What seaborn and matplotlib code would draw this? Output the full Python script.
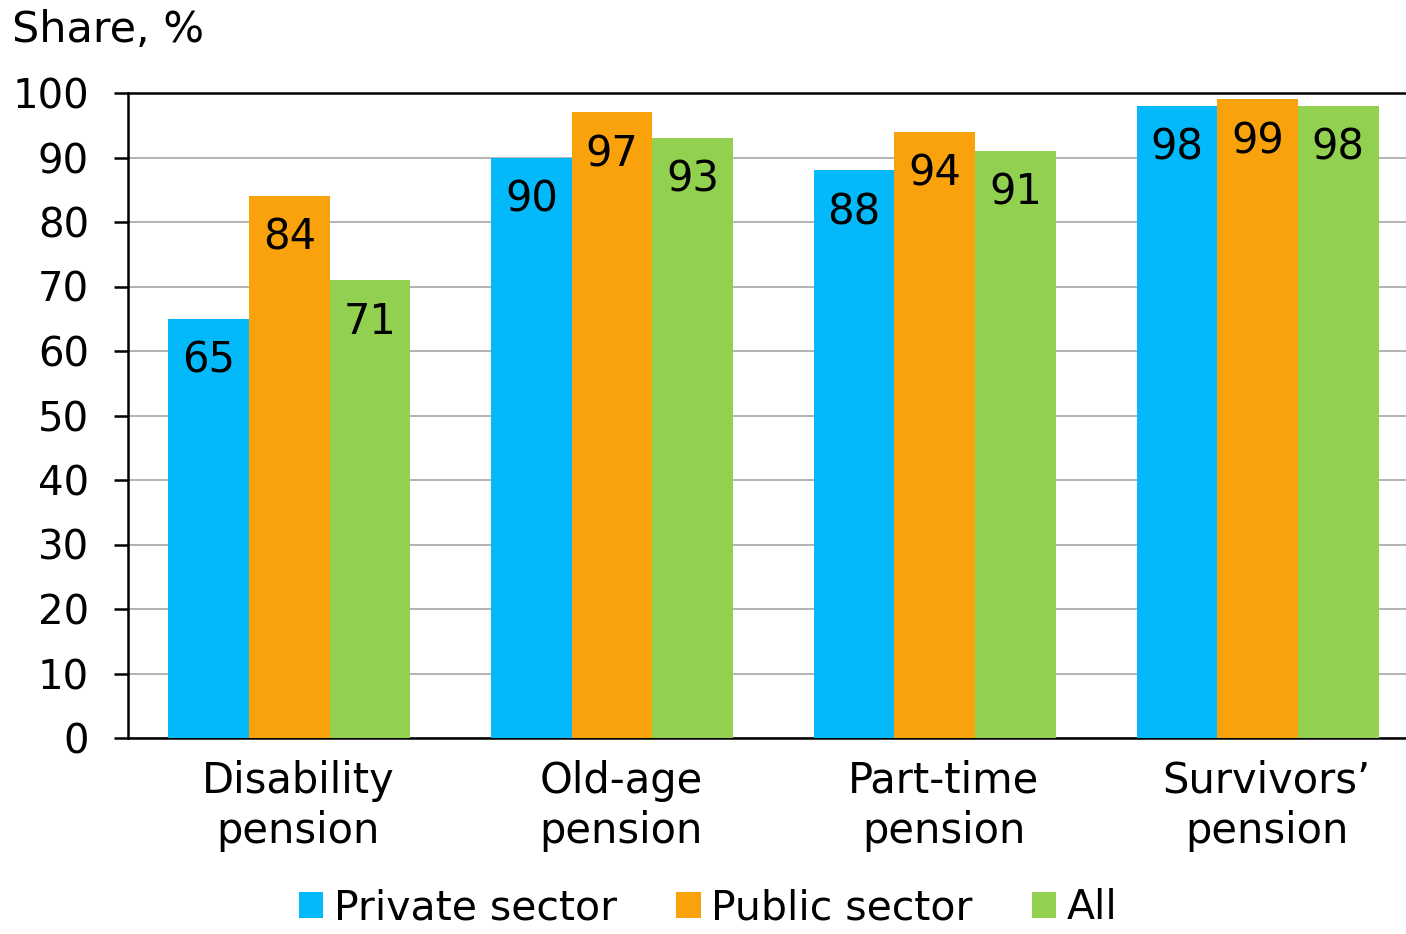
import pandas as pd
import matplotlib.pyplot as plt
import matplotlib.transforms as mtransforms
import seaborn as sns

# data
categories = ["Disability\npension", "Old-age\npension", "Part-time\npension", "Survivors’\npension"]
private_sector = [65, 90, 88, 98]
public_sector = [84, 97, 94, 99]
all_share = [71, 93, 91, 98]
series_names = ["Private sector", "Public sector", "All"]
colors = ["#03B9F9", "#F9A20B", "#92D14F"]

rows = []
for name, vals in zip(series_names, [private_sector, public_sector, all_share]):
    for cat, v in zip(categories, vals):
        rows.append({"category": cat, "series": name, "value": v})
df = pd.DataFrame(rows)

sns.set_style("white")
plt.rcParams["font.family"] = ["DejaVu Sans"]
plt.rcParams["text.color"] = "black"
plt.rcParams["xtick.color"] = "black"
plt.rcParams["ytick.color"] = "black"

fig = plt.figure(figsize=(14.06, 9.34), dpi=100)
ax = fig.add_axes([128 / 1406, 1 - 738 / 934, 1 - 128 / 1406, (738 - 93) / 934])

sns.barplot(data=df, x="category", y="value", hue="series", palette=colors,
            width=0.75, gap=0, saturation=1, ax=ax, zorder=3, edgecolor="none")

ax.set_ylim(0, 100)
ax.set_xlim(-0.5, 3.46)
ax.set_yticks(range(0, 101, 10))
ax.yaxis.grid(True, color="#A6A6A6", linewidth=1.2, zorder=0)
ax.set_xlabel("")
ax.set_ylabel("")

for side in ["top", "left", "bottom"]:
    ax.spines[side].set_visible(True)
    ax.spines[side].set_color("black")
    ax.spines[side].set_linewidth(1.8)
ax.spines["right"].set_visible(False)

ax.tick_params(axis="y", left=True, length=10, width=1.8, pad=18, labelsize=29, color="black")
ax.tick_params(axis="x", bottom=False, pad=12, labelsize=30)
shift = mtransforms.ScaledTranslation(9 / 100, 0, fig.dpi_scale_trans)
for lbl in ax.get_xticklabels():
    lbl.set_linespacing(1.27)
    lbl.set_transform(lbl.get_transform() + shift)

# value labels inside bar tops
for cont in ax.containers:
    for bar in cont:
        h = bar.get_height()
        ax.annotate(f"{h:.0f}", (bar.get_x() + bar.get_width() / 2, h),
                    xytext=(0, -30), textcoords="offset points",
                    ha="center", va="center", fontsize=30, zorder=5)

sns.move_legend(ax, "lower center", bbox_to_anchor=(0.5 * 1406 / (1406 - 128) - 128 / (1406 - 128) + 0.004, -0.352),
                ncol=3, frameon=False, title=None, fontsize=29.5,
                handlelength=0.6, handleheight=0.6, handletextpad=0.25, columnspacing=1.45)

fig.text(12 / 1406, 1 - 30 / 934, "Share, %", fontsize=31, va="center", ha="left")

fig.savefig("out.png", dpi=100)
